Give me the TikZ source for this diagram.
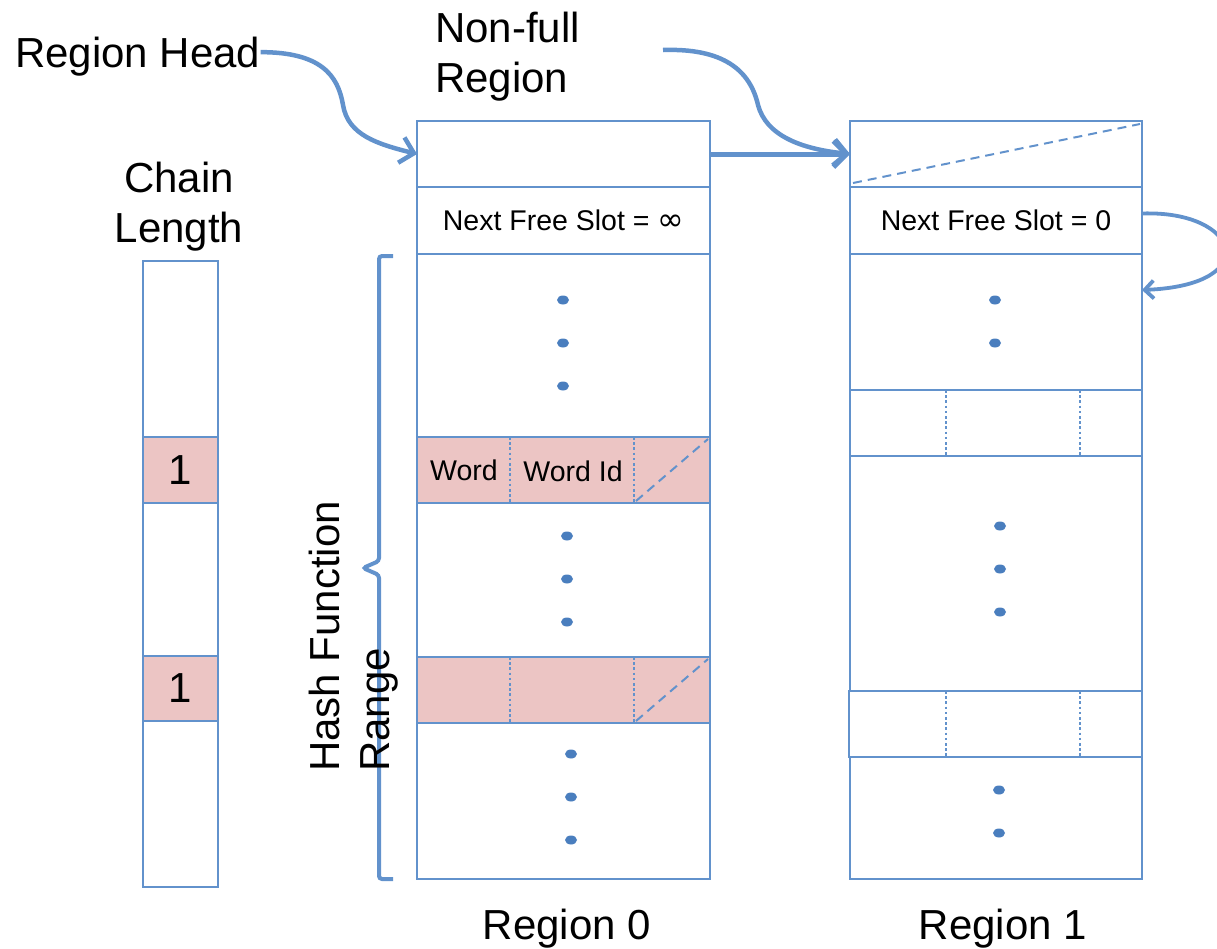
\documentclass[tikz,border=0pt]{standalone}
\usepackage{fontspec}
\setmainfont{Liberation Sans}
\newfontfamily\symbolfont{DejaVu Sans}
\usetikzlibrary{arrows.meta}
\definecolor{lineblue}{RGB}{98,146,204}
\definecolor{dotblue}{RGB}{74,126,190}
\definecolor{slotpink}{RGB}{236,197,196}

\tikzset{
  cell/.style 2 args={draw=lineblue, line width=2.6pt, inner sep=0pt, outer sep=0pt,
    anchor=north west, minimum width=#1pt, minimum height=#2pt},
  biglabel/.style={font=\fontsize{42}{50}\selectfont, inner sep=0pt},
  smalllabel/.style={font=\fontsize{28.5}{34}\selectfont},
  divider/.style={draw=lineblue, line width=2.6pt, dash pattern=on 2.6pt off 2.6pt},
  slash/.style={draw=lineblue, line width=2pt, dash pattern=on 9pt off 6pt},
  link/.style={draw=lineblue, line width=4.5pt, -{Straight Barb[length=13pt,width=26pt]}},
  looplink/.style={draw=lineblue, line width=3.8pt, -{Straight Barb[length=9pt,width=18pt]}}
}

\begin{document}
\begin{tikzpicture}[x=1pt,y=-1pt]
  \useasboundingbox (0,0) rectangle (1217,948);

  % chain length column
  \node[cell={75}{176}, line width=2pt] (c1) at (143,261) {};
  \node[cell={75}{66}, line width=2pt, fill=slotpink, biglabel] (c2) at (143,437) {1};
  \node[cell={75}{153}, line width=2pt] (c3) at (143,503) {};
  \node[cell={75}{65}, line width=2pt, fill=slotpink, biglabel] (c4) at (143,656) {1};
  \node[cell={75}{166}, line width=2pt] (c5) at (143,721) {};
  \node[biglabel, align=center, anchor=north] (chainlab) at (179,162) {Chain\\Length};

  % region 0
  \node[cell={293}{66}] (r0a) at (417,121) {};
  \node[cell={293}{67}, smalllabel] (r0b) at (417,187) {Next Free Slot = {\symbolfont\fontsize{32}{34}\selectfont ∞}};
  \node[cell={293}{183}] (r0c) at (417,254) {};
  \node[cell={293}{66}, fill=slotpink] (r0d) at (417,437) {};
  \node[cell={293}{154}] (r0e) at (417,503) {};
  \node[cell={293}{66}, fill=slotpink] (r0f) at (417,657) {};
  \node[cell={293}{156}] (r0g) at (417,723) {};
  \node[smalllabel] (word) at (464,470) {Word};
  \node[smalllabel] (wordid) at (573,471) {Word Id};
  \foreach \y in {437,657} {
    \draw[divider] (510,\y) -- ++(0,66);
    \draw[divider] (634,\y) -- ++(0,66);
    \draw[slash] (636,\y+64) -- (708,\y+2);
  }

  % region 1
  \node[cell={292}{66}] (r1a) at (850,121) {};
  \node[cell={292}{67}, smalllabel] (r1b) at (850,187) {Next Free Slot = 0};
  \node[cell={292}{136}] (r1c) at (850,254) {};
  \node[cell={292}{66}] (r1d) at (850,390) {};
  \node[cell={292}{235}] (r1e) at (850,456) {};
  \node[cell={293}{66}] (r1f) at (849,691) {};
  \node[cell={292}{122}] (r1g) at (850,757) {};
  \draw[slash] (853,183) -- (1140,124);
  \foreach \y in {390,691} {
    \draw[divider] (946,\y) -- ++(0,66);
    \draw[divider] (1080,\y) -- ++(0,66);
  }

  % dots
  \foreach \x/\y in {563/300,563/343,563/386,567/536,567/579,567/622,
                     571/754,571/797,571/840,995/300,995/343,
                     1000/526,1000/569,1000/612,999/790,999/833}
    \fill[dotblue] (\x,\y) ellipse (6pt and 4.5pt);

  % brace
  \draw[draw=lineblue, line width=4pt, rounded corners=3pt]
    (393,256) -- (379,256) -- (379,561) -- (363,568) -- (379,575) -- (379,879) -- (393,879);

  % labels
  \node[biglabel, anchor=base west] (headlab) at (15,67) {Region Head};
  \node[biglabel, align=left, anchor=north west] (nonfull) at (435,12) {Non-full\\Region};
  \node[biglabel, align=left, anchor=north west, rotate=90] (hashlab) at (309,772) {Hash Function\\Range};
  \node[biglabel, anchor=base] (reg0lab) at (567,939) {Region 0};
  \node[biglabel, anchor=base] (reg1lab) at (1003,939) {Region 1};

  % pointers
  \coordinate (nonfullstart) at (663,50);
  \draw[link] ([yshift=4pt]headlab.east) .. controls +(60,0) and +(-5,-30) .. (343,105)
    .. controls +(5,30) and +(-40,-10) .. (r0a.west);
  \draw[link, line width=5pt] (r0a.east) -- (r1a.west);
  \draw[link] (nonfullstart) .. controls +(60,-2) and +(-8,-35) .. (758,105)
    .. controls +(8,30) and +(-50,-5) .. (r1a.west);
  \draw[looplink] ([yshift=7pt]r1b.east) .. controls (1240,210) and (1265,285) .. ([yshift=32pt]r1c.east);
\end{tikzpicture}
\end{document}
